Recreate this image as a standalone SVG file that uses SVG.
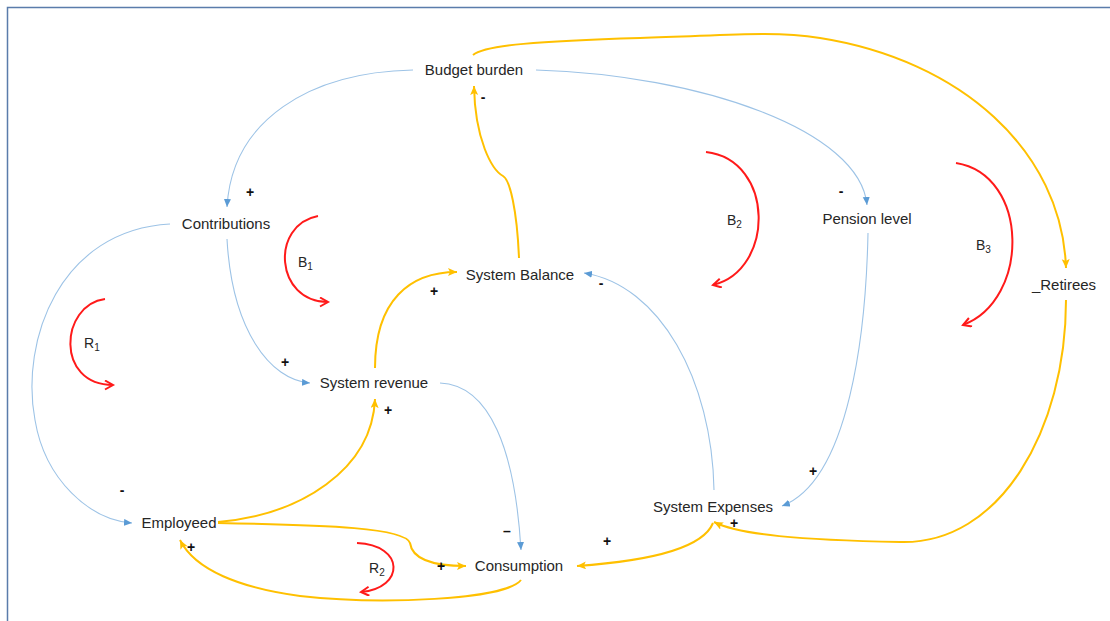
<svg xmlns="http://www.w3.org/2000/svg" width="1110" height="621" viewBox="0 0 1110 621">
  <style>
    .node { font-family: "Liberation Sans", Arial, sans-serif; font-size: 15px; fill: #262626; }
    .sign { font-family: "Liberation Sans", Arial, sans-serif; font-size: 14px; font-weight: bold; fill: #111; }
    .loop { font-family: "Liberation Sans", Arial, sans-serif; font-size: 14px; fill: #262626; }
    .sub { font-size: 10px; }
    .neg { fill: none; stroke: #9dc3e6; stroke-width: 1.1; marker-end: url(#arrowBlue); }
    .pos { fill: none; stroke: #ffc000; stroke-width: 2; marker-end: url(#arrowGold); }
    .cycle { fill: none; stroke: #ff1a1a; stroke-width: 2; marker-end: url(#arrowRed); }
  </style>
  <defs>
    <marker id="arrowBlue" markerUnits="userSpaceOnUse" markerWidth="9" markerHeight="8" refX="8" refY="3.5" orient="auto">
      <path d="M0,0 L8,3.5 L0,7 Z" fill="#5b9bd5"/>
    </marker>
    <marker id="arrowGold" markerUnits="userSpaceOnUse" markerWidth="10" markerHeight="9" refX="9" refY="4" orient="auto">
      <path d="M0,0 L9,4 L0,8 L2,4 Z" fill="#ffc000"/>
    </marker>
    <marker id="arrowRed" markerUnits="userSpaceOnUse" markerWidth="12" markerHeight="12" refX="9" refY="5" orient="auto">
      <path d="M1,0.5 L9,5 L1,9.5" fill="none" stroke="#ff1a1a" stroke-width="2"/>
    </marker>
  </defs>

  <rect width="1110" height="621" fill="#ffffff"/>
  <!-- page frame -->
  <path d="M7.5,621 V7.5 H1110" fill="none" stroke="#5a7cab" stroke-width="1.5"/>

  <g id="connectors">
    <!-- blue links -->
    <path class="neg" d="M413,70 C310,72 232,120 227,207"/>
    <path class="neg" d="M536,70 C700,75 860,130 867,205"/>
    <path class="neg" d="M227,239 C232,330 270,380 310,383"/>
    <path class="neg" d="M170,224 C60,230 20,340 35,420 C45,480 90,520 132,523"/>
    <path class="neg" d="M440,383 C490,385 515,450 521,550"/>
    <path class="neg" d="M714,490 C712,380 660,285 584,273"/>
    <path class="neg" d="M868,233 C866,330 850,480 782,506"/>
    <!-- gold links -->
    <path class="pos" d="M473,55 C485,45 540,41 640,38 C720,36 770,30 820,38 C960,60 1062,150 1066,268"/>
    <path class="pos" d="M375,368 C375,300 410,272 457,272"/>
    <path class="pos" d="M218,522 C300,515 372,470 375,399"/>
    <path class="pos" d="M218,523 C330,525 405,528 410,543 C412,558 430,566 466,566"/>
    <path class="pos" d="M521,580 C505,600 380,605 300,596 C240,588 195,570 180,540"/>
    <path class="pos" d="M519,258 C517,210 510,180 503,176 C492,170 475,140 474,86"/>
    <path class="pos" d="M1066,300 C1066,430 1000,545 900,542 C800,540 740,535 714,522"/>
    <path class="pos" d="M713,523 C700,555 620,563 577,566"/>
    <!-- polarity signs -->
    <text class="sign" x="250" y="197" text-anchor="middle">+</text>
    <text class="sign" x="841" y="196" text-anchor="middle">-</text>
    <text class="sign" x="285" y="367" text-anchor="middle">+</text>
    <text class="sign" x="122" y="495" text-anchor="middle">-</text>
    <text class="sign" x="434" y="296" text-anchor="middle">+</text>
    <text class="sign" x="388" y="415" text-anchor="middle">+</text>
    <text class="sign" x="441" y="571" text-anchor="middle">+</text>
    <text class="sign" x="191" y="552" text-anchor="middle">+</text>
    <text class="sign" x="507" y="536" text-anchor="middle">–</text>
    <text class="sign" x="601" y="288" text-anchor="middle">-</text>
    <text class="sign" x="483" y="102" text-anchor="middle">-</text>
    <text class="sign" x="813" y="476" text-anchor="middle">+</text>
    <text class="sign" x="734" y="528" text-anchor="middle">+</text>
    <text class="sign" x="607" y="546" text-anchor="middle">+</text>
  </g>

  <g id="loops">
    <path class="cycle" d="M105,299 C60,305 55,385 113,385"/>
    <path class="cycle" d="M318,216 C270,225 275,302 328,302"/>
    <path class="cycle" d="M706,152 C775,160 775,270 713,285"/>
    <path class="cycle" d="M956,163 C1030,175 1030,300 963,325"/>
    <path class="cycle" d="M357,543 C405,545 405,588 361,592"/>
    <text class="loop" x="84" y="348">R<tspan class="sub" dy="3">1</tspan></text>
    <text class="loop" x="298" y="267">B<tspan class="sub" dy="3">1</tspan></text>
    <text class="loop" x="727" y="225">B<tspan class="sub" dy="3">2</tspan></text>
    <text class="loop" x="976" y="250">B<tspan class="sub" dy="3">3</tspan></text>
    <text class="loop" x="369" y="573">R<tspan class="sub" dy="3">2</tspan></text>
  </g>

  <g id="budget-burden"><text class="node" x="474" y="75" text-anchor="middle">Budget burden</text></g>
  <g id="contributions"><text class="node" x="226" y="229" text-anchor="middle">Contributions</text></g>
  <g id="pension-level"><text class="node" x="867" y="224" text-anchor="middle">Pension level</text></g>
  <g id="system-balance"><text class="node" x="520" y="280" text-anchor="middle">System Balance</text></g>
  <g id="retirees"><text class="node" x="1064" y="290" text-anchor="middle">_Retirees</text></g>
  <g id="system-revenue"><text class="node" x="374" y="388" text-anchor="middle">System revenue</text></g>
  <g id="employeed"><text class="node" x="179" y="528" text-anchor="middle">Employeed</text></g>
  <g id="consumption"><text class="node" x="519" y="571" text-anchor="middle">Consumption</text></g>
  <g id="system-expenses"><text class="node" x="713" y="512" text-anchor="middle">System Expenses</text></g>
</svg>
